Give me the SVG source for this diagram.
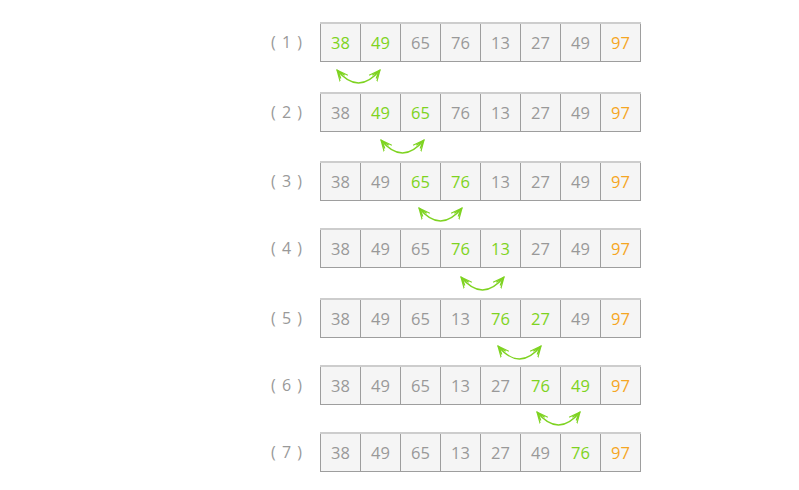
<svg xmlns="http://www.w3.org/2000/svg" width="799" height="490" viewBox="0 0 799 490">
<style>
.cell{fill:#f5f5f5;stroke:#9e9e9e;stroke-width:1}
.top{stroke:#cdcdcd;stroke-width:2}
.n{font-family:"Open Sans","DejaVu Sans",sans-serif;font-size:16.5px;fill:#999;text-anchor:middle;dominant-baseline:central}
.g{fill:#7ed321}
.o{fill:#f5a623}
.lbl{font-family:"Open Sans","DejaVu Sans",sans-serif;font-size:16px;fill:#999;text-anchor:middle;dominant-baseline:central;letter-spacing:1px}
.arc{fill:none;stroke:#7ed321;stroke-width:1.4;marker-start:url(#hs);marker-end:url(#he)}
</style>
<defs>
<marker id="he" viewBox="0 0 12 12" refX="11" refY="6" markerWidth="12" markerHeight="12" markerUnits="userSpaceOnUse" orient="auto">
<path d="M0,1 L11,6 L0,11 M2,3.5 L9,6 L2,8.5" fill="none" stroke="#7ed321" stroke-width="1.2"/>
</marker>
<marker id="hs" viewBox="0 0 12 12" refX="11" refY="6" markerWidth="12" markerHeight="12" markerUnits="userSpaceOnUse" orient="auto-start-reverse">
<path d="M0,1 L11,6 L0,11 M2,3.5 L9,6 L2,8.5" fill="none" stroke="#7ed321" stroke-width="1.2"/>
</marker>
<g id="rowcells">
<rect class="cell" x="320.5" y="0.5" width="40" height="39"/>
<rect class="cell" x="360.5" y="0.5" width="40" height="39"/>
<rect class="cell" x="400.5" y="0.5" width="40" height="39"/>
<rect class="cell" x="440.5" y="0.5" width="40" height="39"/>
<rect class="cell" x="480.5" y="0.5" width="40" height="39"/>
<rect class="cell" x="520.5" y="0.5" width="40" height="39"/>
<rect class="cell" x="560.5" y="0.5" width="40" height="39"/>
<rect class="cell" x="600.5" y="0.5" width="40" height="39"/>
<line class="top" x1="320" y1="1" x2="641" y2="1"/>
</g>
</defs>

<g id="row1" transform="translate(0,22)">
<use href="#rowcells"/>
<text class="lbl" x="287" y="20">( 1 )</text>
<text class="n g" x="340.5" y="20">38</text><text class="n g" x="380.5" y="20">49</text><text class="n" x="420.5" y="20">65</text><text class="n" x="460.5" y="20">76</text><text class="n" x="500.5" y="20">13</text><text class="n" x="540.5" y="20">27</text><text class="n" x="580.5" y="20">49</text><text class="n o" x="620.5" y="20">97</text>
</g>
<g id="row2" transform="translate(0,92)">
<use href="#rowcells"/>
<text class="lbl" x="287" y="20">( 2 )</text>
<text class="n" x="340.5" y="20">38</text><text class="n g" x="380.5" y="20">49</text><text class="n g" x="420.5" y="20">65</text><text class="n" x="460.5" y="20">76</text><text class="n" x="500.5" y="20">13</text><text class="n" x="540.5" y="20">27</text><text class="n" x="580.5" y="20">49</text><text class="n o" x="620.5" y="20">97</text>
</g>
<g id="row3" transform="translate(0,161)">
<use href="#rowcells"/>
<text class="lbl" x="287" y="20">( 3 )</text>
<text class="n" x="340.5" y="20">38</text><text class="n" x="380.5" y="20">49</text><text class="n g" x="420.5" y="20">65</text><text class="n g" x="460.5" y="20">76</text><text class="n" x="500.5" y="20">13</text><text class="n" x="540.5" y="20">27</text><text class="n" x="580.5" y="20">49</text><text class="n o" x="620.5" y="20">97</text>
</g>
<g id="row4" transform="translate(0,228)">
<use href="#rowcells"/>
<text class="lbl" x="287" y="20">( 4 )</text>
<text class="n" x="340.5" y="20">38</text><text class="n" x="380.5" y="20">49</text><text class="n" x="420.5" y="20">65</text><text class="n g" x="460.5" y="20">76</text><text class="n g" x="500.5" y="20">13</text><text class="n" x="540.5" y="20">27</text><text class="n" x="580.5" y="20">49</text><text class="n o" x="620.5" y="20">97</text>
</g>
<g id="row5" transform="translate(0,298)">
<use href="#rowcells"/>
<text class="lbl" x="287" y="20">( 5 )</text>
<text class="n" x="340.5" y="20">38</text><text class="n" x="380.5" y="20">49</text><text class="n" x="420.5" y="20">65</text><text class="n" x="460.5" y="20">13</text><text class="n g" x="500.5" y="20">76</text><text class="n g" x="540.5" y="20">27</text><text class="n" x="580.5" y="20">49</text><text class="n o" x="620.5" y="20">97</text>
</g>
<g id="row6" transform="translate(0,365)">
<use href="#rowcells"/>
<text class="lbl" x="287" y="20">( 6 )</text>
<text class="n" x="340.5" y="20">38</text><text class="n" x="380.5" y="20">49</text><text class="n" x="420.5" y="20">65</text><text class="n" x="460.5" y="20">13</text><text class="n" x="500.5" y="20">27</text><text class="n g" x="540.5" y="20">76</text><text class="n g" x="580.5" y="20">49</text><text class="n o" x="620.5" y="20">97</text>
</g>
<g id="row7" transform="translate(0,432)">
<use href="#rowcells"/>
<text class="lbl" x="287" y="20">( 7 )</text>
<text class="n" x="340.5" y="20">38</text><text class="n" x="380.5" y="20">49</text><text class="n" x="420.5" y="20">65</text><text class="n" x="460.5" y="20">13</text><text class="n" x="500.5" y="20">27</text><text class="n" x="540.5" y="20">49</text><text class="n g" x="580.5" y="20">76</text><text class="n o" x="620.5" y="20">97</text>
</g>

<g id="connectors">
<path class="arc" d="M337,70 Q358.5,96 380,70"/>
<path class="arc" d="M381,140 Q402.5,166 424,140"/>
<path class="arc" d="M419,208 Q440.5,234 462,208"/>
<path class="arc" d="M461,277 Q482.5,303 504,277"/>
<path class="arc" d="M498,346 Q519.5,372 541,346"/>
<path class="arc" d="M537,412 Q558.5,438 580,412"/>
</g>
</svg>
